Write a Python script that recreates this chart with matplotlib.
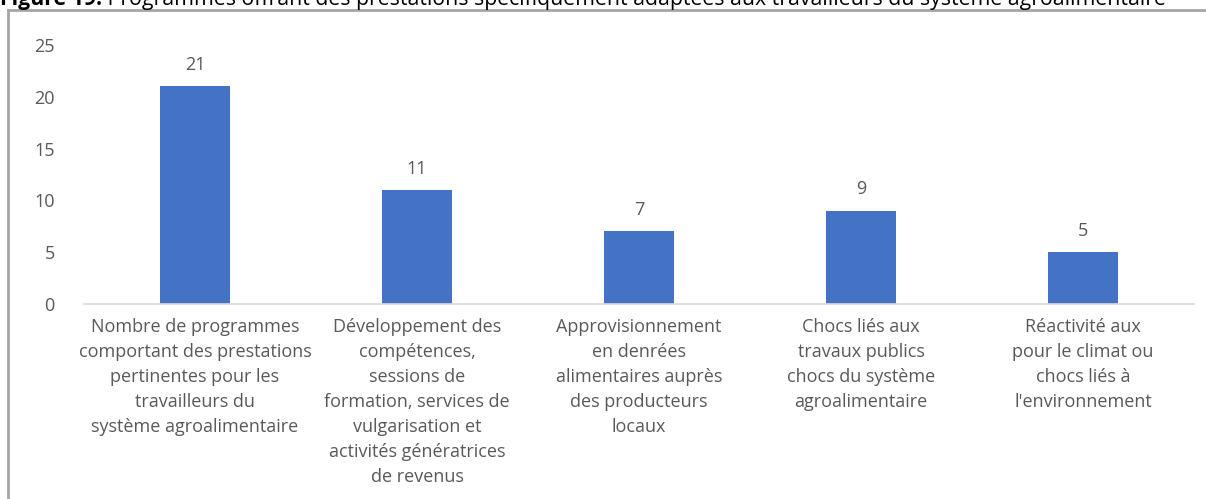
import matplotlib.pyplot as plt
from matplotlib.lines import Line2D
import numpy as np

categories = [
    "Nombre de programmes\ncomportant des prestations\npertinentes pour les\ntravailleurs du\nsystème agroalimentaire",
    "Développement des\ncompétences,\nsessions de\nformation, services de\nvulgarisation et\nactivités génératrices\nde revenus",
    "Approvisionnement\nen denrées\nalimentaires auprès\ndes producteurs\nlocaux",
    "Chocs liés aux\ntravaux publics\nchocs du système\nagroalimentaire",
    "Réactivité aux\npour le climat ou\nchocs liés à\nl'environnement",
]
values = [21, 11, 7, 9, 5]
yticks = [0, 5, 10, 15, 20, 25]

plt.rcParams['font.family'] = ['Open Sans', 'DejaVu Sans']
grey = '#595959'

W, H = 1206, 499
fig = plt.figure(figsize=(W / 100, H / 100), dpi=100)
ax = fig.add_axes([84 / W, 1 - 304 / H, 1110 / W, 259 / H])

x = np.arange(len(values))
bars = ax.bar(x, values, width=0.315, color='#4472C4')
for b, v in zip(bars, values):
    ax.annotate(str(v), (b.get_x() + b.get_width() / 2, v), xytext=(0, 9),
                textcoords='offset points', ha='center', va='bottom',
                fontsize=13, color=grey)

ax.set_xlim(-0.5, len(values) - 0.5)
ax.set_ylim(0, 25)
ax.set_yticks(yticks)
ax.set_xticks(x)
ax.set_xticklabels(categories, fontsize=13, color=grey, linespacing=1.5)
ax.tick_params(axis='y', labelsize=13, labelcolor=grey, length=0, pad=21)
ax.tick_params(axis='x', length=0, pad=10)
for s in ['top', 'right', 'left']:
    ax.spines[s].set_visible(False)
ax.spines['bottom'].set_color('#d9d9d9')
ax.spines['bottom'].set_linewidth(1.2)

# frame around chart
fig.add_artist(Line2D([8 / W, 1], [1 - 10 / H, 1 - 10 / H], color='#a6a6a6', lw=2))
fig.add_artist(Line2D([8 / W, 8 / W], [0, 1 - 10 / H], color='#a6a6a6', lw=2))

# cropped title
ty = 1 - 5 / H
t1 = fig.text(0, ty, "Figure 19.", fontsize=15.3, fontweight='bold',
              color='black', va='baseline', ha='left')
fig.canvas.draw()
bb = t1.get_window_extent()
fig.text(bb.x1 / W, ty, " Programmes offrant des prestations spécifiquement adaptées aux travailleurs du système agroalimentaire",
         fontsize=15.3, color='black', va='baseline', ha='left')

fig.savefig('out.png', dpi=100)
